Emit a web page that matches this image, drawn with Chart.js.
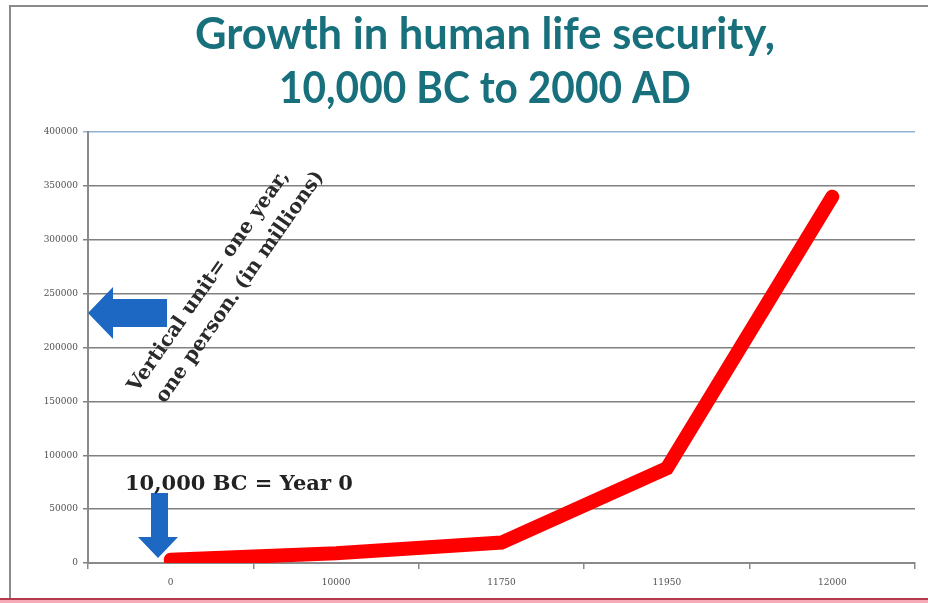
<!DOCTYPE html>
<html><head><meta charset="utf-8">
<style>html,body{margin:0;padding:0;background:#fff;overflow:hidden}#wrap{width:928px;height:603px;position:relative}</style>
<script src="https://cdn.jsdelivr.net/npm/chart.js@4.4.0/dist/chart.umd.min.js"></script>
</head><body><div id="wrap"><canvas id="c" width="928" height="603"></canvas></div>
<script>
const categories = ['0', '10000', '11750', '11950', '12000'];
const securityValues = [3000, 9000, 19000, 88000, 340000];
const yTickMax = 400000;
const yTickStep = 50000;
const titleLines = ['Growth in human life security,', '10,000 BC to 2000 AD'];
const noteYear0 = '10,000 BC = Year 0';
const noteUnitLines = ['Vertical unit= one year,', 'one person. (in millions)'];

function fitSize(ctx, text, weight, family, target) {
  ctx.font = weight + ' 100px ' + family;
  return 100 * target / ctx.measureText(text).width;
}

const decor = {
  id: 'decor',
  beforeDraw(chart) {
    const ctx = chart.ctx;
    ctx.save();
    ctx.fillStyle = '#ffffff';
    ctx.fillRect(0, 0, 928, 603);
    ctx.strokeStyle = '#8a8a8a';
    ctx.lineWidth = 2;
    ctx.beginPath();
    ctx.moveTo(10, 598); ctx.lineTo(10, 6); ctx.lineTo(928, 6);
    ctx.stroke();
    ctx.fillStyle = '#f6a9b6';
    ctx.fillRect(0, 600, 928, 3);
    ctx.fillStyle = '#b23a4a';
    ctx.fillRect(0, 598, 928, 2);
    ctx.fillStyle = '#17707c';
    ctx.textAlign = 'center';
    ctx.textBaseline = 'alphabetic';
    const ts = fitSize(ctx, titleLines[0], 'bold', 'Lato', 580);
    ctx.font = 'bold ' + ts.toFixed(1) + 'px Lato';
    ctx.fillText(titleLines[0], 485, 49);
    ctx.fillText(titleLines[1], 485, 103, 412);
    ctx.restore();
  },
  afterDraw(chart) {
    const ctx = chart.ctx;
    ctx.save();
    ctx.fillStyle = '#1c68c2';
    ctx.beginPath();
    ctx.moveTo(88, 313); ctx.lineTo(113, 287); ctx.lineTo(113, 299);
    ctx.lineTo(167, 299); ctx.lineTo(167, 327); ctx.lineTo(113, 327);
    ctx.lineTo(113, 339); ctx.closePath(); ctx.fill();
    ctx.beginPath();
    ctx.moveTo(151, 493); ctx.lineTo(168, 493); ctx.lineTo(168, 537);
    ctx.lineTo(178, 537); ctx.lineTo(158, 558); ctx.lineTo(138, 537);
    ctx.lineTo(151, 537); ctx.closePath(); ctx.fill();
    ctx.fillStyle = '#222222';
    ctx.textAlign = 'left';
    ctx.textBaseline = 'alphabetic';
    ctx.font = 'bold 21px "DejaVu Serif"';
    ctx.fillText(noteYear0, 125, 490, 230);
    ctx.translate(137, 393);
    ctx.rotate(-55 * Math.PI / 180);
    const rs = fitSize(ctx, noteUnitLines[0], 'bold', '"DejaVu Serif"', 266);
    ctx.font = 'bold ' + rs.toFixed(1) + 'px "DejaVu Serif"';
    ctx.fillStyle = '#2a2a2a';
    ctx.fillText(noteUnitLines[0], 0, 0);
    ctx.fillText(noteUnitLines[1], 7, 29);
    ctx.restore();
  }
};

const tickFont = { family: '"DejaVu Serif"', size: 9 };

new Chart(document.getElementById('c'), {
  type: 'line',
  data: {
    labels: categories,
    datasets: [{
      data: securityValues,
      borderColor: '#ff0000',
      backgroundColor: '#ff0000',
      borderWidth: 14,
      borderCapStyle: 'round',
      borderJoinStyle: 'miter',
      pointRadius: 0,
      tension: 0,
      fill: false
    }]
  },
  options: {
    responsive: false,
    animation: false,
    devicePixelRatio: 1,
    layout: { padding: { left: 0, top: 132, right: 13, bottom: 0 } },
    plugins: { legend: { display: false }, title: { display: false }, tooltip: { enabled: false } },
    scales: {
      x: {
        type: 'category',
        offset: true,
        afterFit: s => { s.height = 40; },
        grid: { offset: true, drawOnChartArea: false, drawTicks: true, tickLength: 6, color: '#8a8a8a', lineWidth: 1.5 },
        border: { color: '#8a8a8a', width: 2 },
        ticks: { color: '#505050', font: tickFont, padding: 8, maxRotation: 0 }
      },
      y: {
        min: 0,
        max: yTickMax,
        afterFit: s => { s.width = 88; },
        grid: {
          color: c => (c.tick && c.tick.value === yTickMax) ? '#8fb4d4' : '#808080',
          lineWidth: 1.5,
          tickLength: 5
        },
        border: { color: '#8a8a8a', width: 2 },
        ticks: { stepSize: yTickStep, color: '#505050', font: tickFont, padding: 5, callback: v => String(v) }
      }
    }
  },
  plugins: [decor]
});
</script></body></html>
